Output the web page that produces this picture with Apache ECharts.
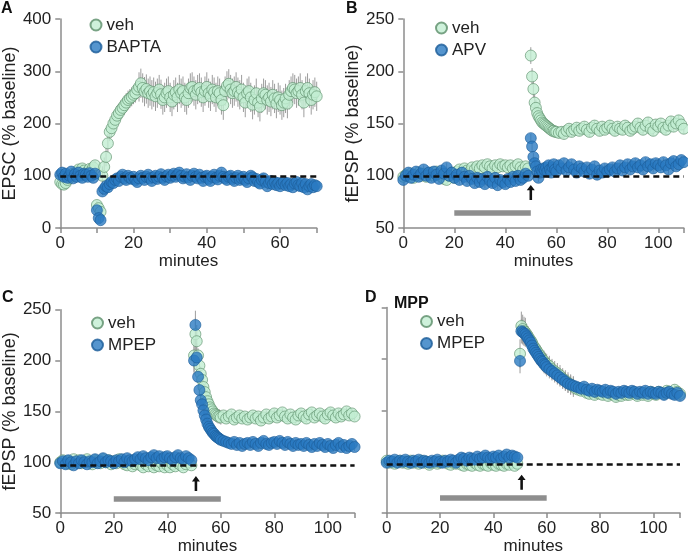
<!DOCTYPE html>
<html>
<head>
<meta charset="utf-8">
<script src="https://cdn.jsdelivr.net/npm/echarts@6/dist/echarts.min.js"></script>
<style>html,body{margin:0;padding:0;background:#fff}#chart{width:688px;height:556px}</style>
</head>
<body>
<div id="chart"></div>
<script>
// ---------- DATA ----------
// Panel A: EPSC, sampled every 0.5 min from 0 to 70
const stepA = 0.5;
const vehA = [
  88,84,83,86,92,96,100,104,102,108,112,106,114,110,104,108,113,110,116,120,
  44,38,31,100,117,136,162,184,191,200,207,215,220,226,230,235,240,245,248,251,
  255,258,265,270,277,268,261,266,258,262,255,260,252,258,265,256,245,250,258,262,
  250,242,255,260,250,265,258,262,250,245,258,268,270,262,255,265,268,260,250,262,
  270,258,252,265,260,250,262,258,245,235,262,272,276,265,258,262,270,260,255,265,
  250,240,258,262,250,236,245,258,240,232,248,258,255,245,250,242,255,248,238,250,
  245,235,240,248,238,255,262,268,265,258,262,268,255,240,262,268,258,245,255,260,
  252
];
const baptaA = [
  102,106,98,104,96,100,108,95,103,98,106,100,96,104,102,98,105,100,96,104,
  34,19,15,70,75,80,78,84,88,86,92,95,90,98,102,95,92,100,96,94,
  98,92,88,95,100,96,92,98,102,95,90,97,100,94,98,103,96,92,99,102,
  96,100,104,98,102,106,100,95,98,103,97,92,100,104,98,95,102,96,90,98,
  100,94,90,98,102,96,93,100,106,98,95,92,98,100,94,90,96,100,92,95,
  98,92,88,95,100,97,90,94,88,85,92,95,88,80,86,90,84,88,82,86,
  80,85,88,82,86,80,84,78,85,88,82,80,86,78,84,74,80,84,78,82,
  80
];
// Panels B-D: 1-min samples 0-49, 0.5-min samples 50-60, 1-min samples 61-110
const vehB = [
  99,101,100,102,98,101,103,100,102,99, 101,103,100,104,102,99,97,96,100,103,
  98,104,106,103,107,105,104,108,106,109, 107,110,108,111,109,107,110,108,111,109,
  110,108,110,107,109,111,108,106,109,107,
  215,195,183,170,165,160,157,155,153,151,150,149,148,147,146,145,144,143,143,142,142,
  141,142,140,143,145,142,144,146,143,145, 147,144,142,146,148,145,143,147,144,146,
  148,145,143,147,145,144,148,146,143,145, 147,150,146,144,148,151,145,143,149,147,
  150,146,144,148,152,147,150,153,149,145
];
const apvB = [
  96,100,103,98,101,104,99,102,106,100, 103,98,104,101,97,105,102,108,100,103,
  98,101,96,103,99,95,100,97,93,98, 94,97,92,99,95,93,98,91,96,94,
  92,97,94,99,95,100,96,98,102,100,
  136,128,118,112,109,104,98,103,106,104,107,105,108,104,110,106,103,108,111,106,104,
  110,107,112,105,108,111,106,103,109,107, 104,108,102,106,109,101,105,103,107,104,
  106,108,104,107,110,105,108,111,106,109, 112,108,110,106,113,109,111,107,112,110,
  108,113,110,106,112,114,109,111,115,113
];
const vehC = [
  100,102,99,101,98,103,100,102,99,101, 103,100,98,102,101,99,103,100,102,98,
  101,99,103,100,98,97,99,96,98,100, 97,95,98,96,99,95,97,96,99,95,
  97,95,98,96,99,97,95,98,100,97,
  205,226,219,205,195,187,181,174,169,164,160,157,154,152,150,148,147,146,145,145,144,
  146,143,145,147,142,144,146,143,145,142, 144,146,143,145,141,144,147,143,145,148,
  144,146,149,145,143,147,144,142,146,148, 145,143,147,149,144,146,148,145,143,147,
  149,146,144,148,145,147,150,146,148,145
];
const mpepC = [
  99,101,98,102,100,97,101,99,102,100, 98,101,100,103,99,101,104,100,102,101,
  99,102,101,103,100,104,102,101,103,105, 103,106,104,102,105,107,104,106,103,105,
  106,104,102,105,107,104,103,106,104,102,
  200,235,203,184,171,161,157,151,146,142,138,135,133,131,129,128,126,125,124,123,122,
  121,120,119,118,120,117,119,116,118,119, 117,120,118,116,119,121,118,117,119,120,
  118,121,119,117,120,118,116,119,117,118, 116,119,117,115,118,116,119,117,115,118,
  116,114,117,119,115,117,114,116,118,115
];
const vehD = [
  101,99,100,98,100,101,99,100,98,101, 99,100,98,101,99,100,97,99,100,98,
  99,101,100,98,97,99,98,100,97,96, 98,97,96,99,97,96,98,97,96,99,
  97,96,98,97,96,98,97,99,96,98,
  205,232,229,227,226,224,222,220,218,216,213,211,209,207,205,203,201,199,198,196,195,
  193,190,188,186,184,181,179,177,175,173, 171,170,169,170,167,166,168,165,167,166,
  165,167,164,166,165,163,165,164,166,165, 165,167,166,164,166,165,167,164,168,166,
  165,168,167,166,169,168,167,170,168,166
];
const mpepD = [
  99,101,100,102,99,101,100,102,100,99, 101,100,102,99,101,100,99,101,100,102,
  100,99,101,100,102,101,99,102,104,103, 101,104,103,102,105,103,104,106,104,103,
  105,104,106,103,105,107,104,106,105,104,
  198,227,226,225,224,222,220,218,216,213,210,208,206,204,202,200,198,197,195,194,192,
  190,188,186,184,182,180,178,176,175,174, 173,172,171,173,170,169,171,168,170,169,
  168,170,167,169,168,166,168,167,169,168, 167,169,168,166,168,167,169,166,168,167,
  166,168,167,165,167,168,166,165,167,164
];
// SEM read per time span: [upto minute, sem]
const semVehA = [[9.9,8],[11.4,8],[21,18],[70,28]];
const semBaptaA = [[70,7]];
const semVehB = [[49,3],[53,8],[110,5]];
const semApvB = [[110,4]];
const semVehC = [[49,3],[51,16],[60,7],[110,4]];
const semMpepC = [[49,3],[51,14],[60,6],[110,4]];
const semVehD = [[49,2],[52,14],[70,10],[110,5]];
const semMpepD = [[49,2],[52,12],[70,9],[110,5]];

const xTicksA = [0, 20, 40, 60];
const baselineLevels = [100, 100, 97, 98];
const drugBars = [[20, 50, 65], [20, 60, 64], [20, 60, 65]];  // start, end, y level (B, C, D)
const arrowAt = [[50, 84], [50.7, 79], [50.6, 80]];          // B, C, D

// ---------- HELPERS ----------
function range(a, b, s) { const r = []; for (let i = 0; a + i * s <= b + 1e-9; i++) r.push(+(a + i * s).toFixed(2)); return r; }
const timesA = range(0, 70, stepA);
const timesBCD = range(0, 49, 1).concat(range(50, 60, 0.5), range(61, 110, 1));
function semAt(seg, t) { for (const s of seg) if (t <= s[0]) return s[1]; return seg[seg.length - 1][1]; }

const FONT = 'Liberation Sans, Arial, sans-serif';
const AX = '#8c8c8c';
const VEH = { color: '#c2eed2', borderColor: '#5b8d69', borderWidth: 0.8 };
const BLU = { color: '#2a7bc2', borderColor: '#1c5d98', borderWidth: 0.8 };

function scatter(name, idx, times, vals, style, z) {
  return { type: 'scatter', name, xAxisIndex: idx, yAxisIndex: idx, z,
    data: times.map((t, i) => [t, vals[i]]), symbolSize: 11, itemStyle: style,
    emphasis: { disabled: true }, silent: true, animation: false };
}
function errbar(idx, times, vals, seg) {
  return { type: 'custom', xAxisIndex: idx, yAxisIndex: idx, z: 1, silent: true, animation: false,
    data: times.map((t, i) => [t, vals[i], semAt(seg, t)]),
    encode: { x: 0, y: 1 },
    renderItem: (params, api) => {
      const x = api.value(0), y = api.value(1), e = api.value(2);
      const p1 = api.coord([x, y - e]), p2 = api.coord([x, y + e]);
      return { type: 'line', shape: { x1: p1[0], y1: p1[1], x2: p2[0], y2: p2[1] },
        style: { stroke: '#9d9d9d', lineWidth: 1 } };
    } };
}
function refLines(idx, level, bar, arrow) {
  const ml = [{ yAxis: level, lineStyle: { color: '#111', type: [6, 4], width: 2.5 } }];
  if (bar) ml.push([{ coord: [bar[0], bar[2]], lineStyle: { color: '#8e8e8e', width: 5.5, type: 'solid' } }, { coord: [bar[1], bar[2]] }]);
  const s = { type: 'line', xAxisIndex: idx, yAxisIndex: idx, data: [], z: 10, silent: true, animation: false,
    markLine: { symbol: 'none', silent: true, animation: false, label: { show: false }, data: ml } };
  if (arrow) s.markPoint = { silent: true, animation: false, label: { show: false },
    symbol: 'path://M5,0 L10,6 L6.6,6 L6.6,17 L3.4,17 L3.4,6 L0,6 Z', symbolSize: [8, 15],
    itemStyle: { color: '#111' }, data: [{ coord: arrow }] };
  return s;
}
function xAx(idx, max, interval, onlyTwenty) {
  return { type: 'value', gridIndex: idx, min: 0, max, interval,
    name: 'minutes', nameLocation: 'middle', nameGap: 21,
    nameTextStyle: { fontSize: 17, color: '#222', fontFamily: FONT },
    axisLine: { lineStyle: { color: AX, width: 1.5 } },
    axisTick: { length: 5, lineStyle: { color: AX, width: 1.5 } },
    axisLabel: { fontSize: 17, color: '#222', fontFamily: FONT, margin: 7,
      formatter: v => (onlyTwenty ? (xTicksA.includes(v) ? String(v) : '') : (v > 100 ? '' : String(v))) },
    splitLine: { show: false } };
}
function yAx(idx, min, max, interval, name, showLabels) {
  return { type: 'value', gridIndex: idx, min, max, interval,
    name, nameLocation: 'middle', nameGap: 38,
    nameTextStyle: { fontSize: 18, color: '#222', fontFamily: FONT },
    axisLine: { show: true, lineStyle: { color: AX, width: 1.5 } },
    axisTick: { show: true, length: 5, lineStyle: { color: AX, width: 1.5 } },
    axisLabel: { show: showLabels, fontSize: 17, color: '#222', fontFamily: FONT, margin: 9 },
    splitLine: { show: false } };
}
function leg(names, left, top) {
  return { data: names, left, top, orient: 'vertical', icon: 'circle', itemWidth: 11, itemHeight: 11,
    itemGap: 5, selectedMode: false, padding: 0,
    textStyle: { fontSize: 17, color: '#222', fontFamily: FONT } };
}
function letter(t, left, top, size) {
  return { type: 'text', left, top, silent: true,
    style: { text: t, font: 'bold ' + size + 'px ' + FONT, fill: '#111' } };
}

const option = {
  animation: false,
  grid: [
    { left: 60, top: 19, width: 256.7, height: 209 },
    { left: 403.3, top: 19, width: 280.5, height: 209 },
    { left: 59.3, top: 309.7, width: 295.3, height: 206.6 },
    { left: 386.7, top: 307.5, width: 293.3, height: 208.8 }
  ],
  xAxis: [xAx(0, 70, 10, true), xAx(1, 110, 20), xAx(2, 110, 20), xAx(3, 110, 20)],
  yAxis: [
    yAx(0, 0, 400, 100, 'EPSC (% baseline)', true),
    yAx(1, 50, 250, 50, 'fEPSP (% baseline)', true),
    yAx(2, 50, 250, 50, 'fEPSP (% baseline)', true),
    yAx(3, 50, 250, 50, '', false)
  ],
  legend: [
    leg(['veh', 'BAPTA'], 89.5, 16.5),
    leg(['veh', 'APV'], 435, 19.5),
    leg(['veh', 'MPEP'], 91, 314.5),
    leg(['veh', 'MPEP'], 420, 313)
  ],
  graphic: [
    letter('A', 1, 1, 16), letter('B', 346, 1, 16), letter('C', 2, 290, 16),
    letter('D', 365, 290, 16), letter('MPP', 394, 296, 16)
  ],
  series: [
    errbar(0, timesA, vehA, semVehA), errbar(0, timesA, baptaA, semBaptaA),
    scatter('veh', 0, timesA, vehA, VEH, 2), scatter('BAPTA', 0, timesA, baptaA, BLU, 3),
    refLines(0, baselineLevels[0]),
    errbar(1, timesBCD, vehB, semVehB), errbar(1, timesBCD, apvB, semApvB),
    scatter('veh', 1, timesBCD, vehB, VEH, 2), scatter('APV', 1, timesBCD, apvB, BLU, 3),
    refLines(1, baselineLevels[1], drugBars[0], arrowAt[0]),
    errbar(2, timesBCD, vehC, semVehC), errbar(2, timesBCD, mpepC, semMpepC),
    scatter('veh', 2, timesBCD, vehC, VEH, 2), scatter('MPEP', 2, timesBCD, mpepC, BLU, 3),
    refLines(2, baselineLevels[2], drugBars[1], arrowAt[1]),
    errbar(3, timesBCD, vehD, semVehD), errbar(3, timesBCD, mpepD, semMpepD),
    scatter('veh', 3, timesBCD, vehD, VEH, 2), scatter('MPEP', 3, timesBCD, mpepD, BLU, 3),
    refLines(3, baselineLevels[3], drugBars[2], arrowAt[2])
  ]
};
const chart = echarts.init(document.getElementById('chart'), null, { renderer: 'canvas' });
chart.setOption(option);
</script>
</body>
</html>
